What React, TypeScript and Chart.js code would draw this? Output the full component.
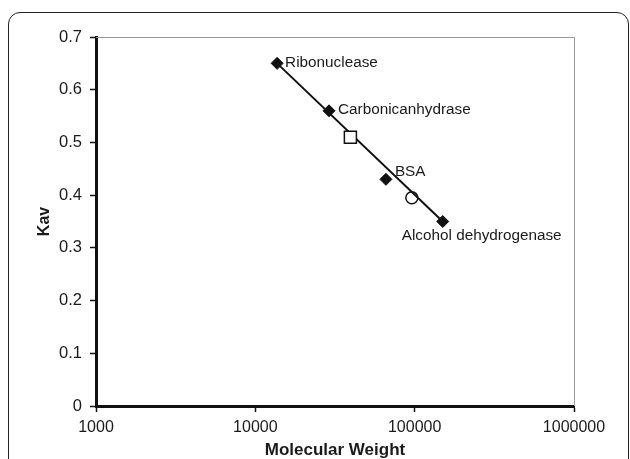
import React, { useEffect, useRef } from 'react';
import { Chart, registerables } from 'chart.js';

Chart.register(...registerables);

// ---- data ----
const proteinNames = ['Ribonuclease', 'Carbonicanhydrase', 'BSA', 'Alcohol dehydrogenase'];
const proteinMW = [13700, 29000, 66000, 150000];
const proteinKav = [0.65, 0.56, 0.43, 0.35];

const unknownSquareMW = [39500];
const unknownSquareKav = [0.51];

const unknownCircleMW = [96000];
const unknownCircleKav = [0.395];

const fitMW = [13700, 150000];
const fitKav = [0.65, 0.35];

const xTickValues = [1000, 10000, 100000, 1000000];
const yTickValues = [0, 0.1, 0.2, 0.3, 0.4, 0.5, 0.6, 0.7];

// label placement (layout only)
const labelOffsets = [
  { dx: 8, dy: -1 },
  { dx: 9, dy: -1 },
  { dx: 9, dy: -8 },
  { dx: -41, dy: 14 },
];

const FONT = "'Liberation Sans', Arial, Helvetica, sans-serif";

const frameBorderPlugin = {
  id: 'frameBorder',
  beforeDatasetsDraw(chart: any) {
    const { ctx, chartArea } = chart;
    ctx.save();
    ctx.strokeStyle = '#9a9a9a';
    ctx.lineWidth = 1;
    ctx.beginPath();
    ctx.moveTo(chartArea.left, chartArea.top + 0.5);
    ctx.lineTo(chartArea.right + 0.5, chartArea.top + 0.5);
    ctx.lineTo(chartArea.right + 0.5, chartArea.bottom);
    ctx.stroke();
    ctx.restore();
  },
};

const pointLabelPlugin = {
  id: 'pointLabels',
  afterDatasetsDraw(chart: any) {
    const { ctx, scales } = chart;
    ctx.save();
    ctx.font = `15.3px ${FONT}`;
    ctx.fillStyle = '#1a1a1a';
    ctx.textAlign = 'left';
    ctx.textBaseline = 'middle';
    proteinNames.forEach((name, i) => {
      const px = scales.x.getPixelForValue(proteinMW[i]);
      const py = scales.y.getPixelForValue(proteinKav[i]);
      const o = labelOffsets[i];
      ctx.fillText(name, px + o.dx, py + o.dy);
    });
    ctx.restore();
  },
};

export default function App() {
  const canvasRef = useRef<HTMLCanvasElement | null>(null);

  useEffect(() => {
    if (!canvasRef.current) return;
    const chart = new Chart(canvasRef.current, {
      type: 'scatter',
      data: {
        datasets: [
          {
            label: 'Fit',
            type: 'line',
            data: fitMW.map((x, i) => ({ x, y: fitKav[i] })),
            borderColor: '#111',
            borderWidth: 2,
            pointRadius: 0,
            showLine: true,
            fill: false,
            order: 3,
          } as any,
          {
            label: 'Standards',
            data: proteinMW.map((x, i) => ({ x, y: proteinKav[i] })),
            pointStyle: 'rectRot',
            pointRadius: 6,
            backgroundColor: '#111',
            borderColor: '#111',
            borderWidth: 1,
            order: 2,
          },
          {
            label: 'Unknown A',
            data: unknownSquareMW.map((x, i) => ({ x, y: unknownSquareKav[i] })),
            pointStyle: 'rect',
            pointRadius: 8.5,
            backgroundColor: '#fff',
            borderColor: '#111',
            borderWidth: 1.5,
            order: 1,
          },
          {
            label: 'Unknown B',
            data: unknownCircleMW.map((x, i) => ({ x, y: unknownCircleKav[i] })),
            pointStyle: 'circle',
            pointRadius: 6,
            backgroundColor: 'rgba(255,255,255,0)',
            borderColor: '#111',
            borderWidth: 1.5,
            order: 1,
          },
        ],
      },
      options: {
        animation: false,
        responsive: false,
        layout: { padding: { left: 0, top: 37, right: 56, bottom: 0 } },
        plugins: {
          legend: { display: false },
          tooltip: { enabled: false },
        },
        scales: {
          x: {
            type: 'logarithmic',
            min: 1000,
            max: 1000000,
            afterBuildTicks: (axis: any) => {
              axis.ticks = xTickValues.map((v) => ({ value: v }));
            },
            afterFit: (axis: any) => {
              axis.height = 53;
            },
            grid: {
              drawOnChartArea: false,
              drawTicks: true,
              tickLength: 6,
              tickColor: '#111',
              tickWidth: 1.5,
            },
            border: { color: '#111', width: 3 },
            ticks: {
              autoSkip: false,
              maxRotation: 0,
              padding: 6,
              color: '#1a1a1a',
              font: { family: FONT, size: 16 },
              callback: (v: any) => String(v),
            },
            title: {
              display: true,
              text: 'Molecular Weight',
              color: '#1a1a1a',
              font: { family: FONT, size: 17, weight: 'bold', lineHeight: 1 },
              padding: { top: 0, bottom: 0 },
            },
          },
          y: {
            type: 'linear',
            min: 0,
            max: 0.7,
            afterBuildTicks: (axis: any) => {
              axis.ticks = yTickValues.map((v) => ({ value: v }));
            },
            afterFit: (axis: any) => {
              axis.width = 96;
            },
            grid: {
              drawOnChartArea: false,
              drawTicks: true,
              tickLength: 6,
              tickColor: '#111',
              tickWidth: 1.5,
            },
            border: { color: '#111', width: 3 },
            ticks: {
              padding: 8,
              color: '#1a1a1a',
              font: { family: FONT, size: 16.5 },
              callback: (v: any) => String(Math.round(Number(v) * 10) / 10),
            },
            title: {
              display: true,
              text: 'Kav',
              color: '#1a1a1a',
              font: { family: FONT, size: 16, weight: 'bold', lineHeight: 1.2 },
              padding: { top: 35, bottom: 0 },
            },
          },
        },
      },
      plugins: [frameBorderPlugin, pointLabelPlugin],
    });
    return () => chart.destroy();
  }, []);

  return (
    <div
      style={{
        position: 'fixed',
        left: 0,
        top: 0,
        width: 630,
        height: 459,
        overflow: 'hidden',
        background: '#fff',
      }}
    >
      <div
        style={{
          position: 'absolute',
          left: 8,
          top: 12,
          width: 621,
          height: 480,
          border: '1.5px solid #222',
          borderRadius: 12,
          boxSizing: 'border-box',
        }}
      />
      <canvas
        ref={canvasRef}
        width={630}
        height={459}
        style={{ position: 'absolute', left: 0, top: 0, width: 630, height: 459 }}
      />
    </div>
  );
}
